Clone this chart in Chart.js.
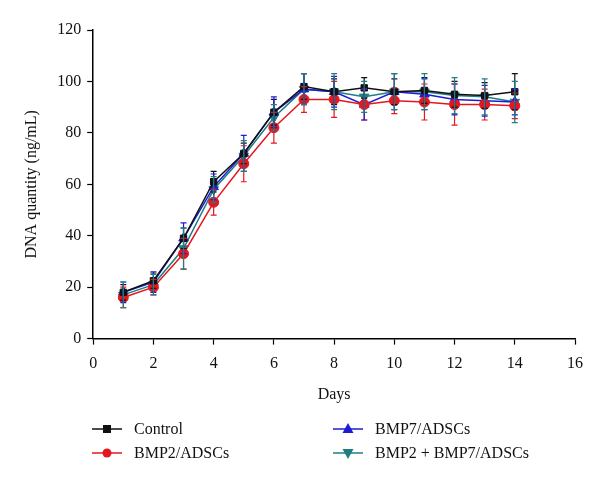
<!DOCTYPE html>
<html>
<head>
<meta charset="utf-8">
<script src="https://cdn.jsdelivr.net/npm/chart.js@4.4.0/dist/chart.umd.min.js"></script>
<style>
  html, body { margin: 0; padding: 0; background: #fff; }
  #wrap { position: relative; width: 600px; height: 486px; }
  #legend { position: absolute; left: 0; top: 0; width: 600px; height: 486px; pointer-events: none;
            font-family: "Liberation Serif", "DejaVu Serif", serif; font-size: 16px; color: #111; }
  .item { position: absolute; display: flex; align-items: center; white-space: nowrap; }
  .item svg { margin-right: 12px; }
</style>
</head>
<body>
<div id="wrap">
  <canvas id="chart" width="600" height="486"></canvas>
  <div id="legend"></div>
</div>
<script>
// Days on the x axis
const days = [1, 2, 3, 4, 5, 6, 7, 8, 9, 10, 11, 12, 13, 14];

// Mean DNA quantity (ng/mL) for each group
const controlValues = [18, 22.5, 39, 61, 72, 88, 98, 96, 97.5, 96, 96.5, 95, 94.5, 96];
const bmp2Values    = [16, 20, 33, 53, 68, 82, 93, 93, 91, 92.5, 92, 91, 91, 90.5];
const bmp7Values    = [18, 22, 39, 59, 72, 88, 97, 96, 91, 96, 95, 93, 92.5, 92];
const comboValues   = [17, 21, 35, 58, 71, 86, 97, 96, 94, 96, 96, 94.5, 94, 92];

// Error bar half-lengths
const controlErr = [3, 3, 4, 4, 4, 5, 5, 5, 4, 5, 5, 5, 5, 7];
const bmp2Err    = [4, 3, 6, 5, 7, 6, 5, 7, 6, 5, 7, 8, 6, 5];
const bmp7Err    = [4, 4, 6, 5, 7, 6, 6, 6, 6, 7, 6, 6, 6, 5];
const comboErr   = [5, 4, 8, 5, 6, 5, 6, 7, 6, 7, 7, 7, 7, 8];

const xTicks = [0, 2, 4, 6, 8, 10, 12, 14, 16];
const yTicks = [0, 20, 40, 60, 80, 100, 120];

const FONT = '"Liberation Serif", "DejaVu Serif", serif';

const series = [
    { label: 'Control', values: controlValues, err: controlErr, color: '#111111', style: 'rect', rot: 0, radius: 4.5 },
    { label: 'BMP2/ADSCs', values: bmp2Values, err: bmp2Err, color: '#e3171f', style: 'circle', rot: 0, radius: 5 },
    { label: 'BMP7/ADSCs', values: bmp7Values, err: bmp7Err, color: '#1c1cd6', style: 'triangle', rot: 0, radius: 5.5 },
    { label: 'BMP2 + BMP7/ADSCs', values: comboValues, err: comboErr, color: '#1f7f80', style: 'triangle', rot: 180, radius: 5.5 }
];

const errorBars = {
    id: 'errorBars',
    afterDatasetsDraw(chart) {
        const ctx = chart.ctx;
        const x = chart.scales.x;
        const y = chart.scales.y;
        ctx.save();
        ctx.lineWidth = 1.2;
        series.forEach((s) => {
            ctx.strokeStyle = s.color;
            s.values.forEach((v, i) => {
                const px = x.getPixelForValue(days[i]);
                const top = y.getPixelForValue(v + s.err[i]);
                const bot = y.getPixelForValue(v - s.err[i]);
                ctx.beginPath();
                ctx.moveTo(px, top); ctx.lineTo(px, bot);
                ctx.moveTo(px - 3, top); ctx.lineTo(px + 3, top);
                ctx.moveTo(px - 3, bot); ctx.lineTo(px + 3, bot);
                ctx.stroke();
            });
        });
        ctx.restore();
    }
};

new Chart(document.getElementById('chart').getContext('2d'), {
    type: 'line',
    data: {
        datasets: series.map(s => ({
            label: s.label,
            data: s.values.map((v, i) => ({ x: days[i], y: v })),
            borderColor: s.color,
            backgroundColor: s.color,
            borderWidth: 1.5,
            pointStyle: s.style,
            rotation: s.rot,
            pointRadius: s.radius,
            pointBorderWidth: 1,
            tension: 0
        }))
    },
    options: {
        responsive: false,
        animation: false,
        layout: { padding: { left: 18, right: 25, top: 30, bottom: 78 } },
        plugins: { legend: { display: false }, tooltip: { enabled: false } },
        scales: {
            x: {
                type: 'linear',
                min: 0, max: 16,
                afterBuildTicks: (axis) => { axis.ticks = xTicks.map(v => ({ value: v })); },
                grid: { display: true, drawOnChartArea: false, drawTicks: true, tickLength: 6, tickColor: '#000', tickWidth: 1.2 },
                border: { color: '#000', width: 1.5 },
                ticks: { color: '#111', font: { family: FONT, size: 16 }, padding: 10, maxRotation: 0 },
                title: { display: true, text: 'Days', color: '#111', font: { family: FONT, size: 16 }, padding: { top: 1 } }
            },
            y: {
                min: 0, max: 120,
                afterBuildTicks: (axis) => { axis.ticks = yTicks.map(v => ({ value: v })); },
                grid: { display: true, drawOnChartArea: false, drawTicks: true, tickLength: 6, tickColor: '#000', tickWidth: 1.2 },
                border: { color: '#000', width: 1.5 },
                ticks: { color: '#111', font: { family: FONT, size: 16 }, padding: 6 },
                title: { display: true, text: 'DNA quantity (ng/mL)', color: '#111', font: { family: FONT, size: 16 }, padding: { bottom: 10 } }
            }
        }
    },
    plugins: [errorBars]
});

// Legend in two columns under the plot
const legendPos = [
    { left: 92, top: 420 },
    { left: 92, top: 444 },
    { left: 333, top: 420 },
    { left: 333, top: 444 }
];
const legendEl = document.getElementById('legend');
series.forEach((s, i) => {
    let marker;
    if (s.style === 'rect') marker = `<rect x="11" y="5" width="8" height="8" fill="${s.color}"/>`;
    else if (s.style === 'circle') marker = `<circle cx="15" cy="9" r="4.5" fill="${s.color}"/>`;
    else if (s.rot === 0) marker = `<polygon points="15,3 20.5,13 9.5,13" fill="${s.color}"/>`;
    else marker = `<polygon points="15,15 20.5,5 9.5,5" fill="${s.color}"/>`;
    const div = document.createElement('div');
    div.className = 'item';
    div.style.left = legendPos[i].left + 'px';
    div.style.top = legendPos[i].top + 'px';
    div.innerHTML = `<svg width="30" height="18"><line x1="0" y1="9" x2="30" y2="9" stroke="${s.color}" stroke-width="1.5"/>${marker}</svg><span>${s.label}</span>`;
    legendEl.appendChild(div);
});
</script>
</body>
</html>
